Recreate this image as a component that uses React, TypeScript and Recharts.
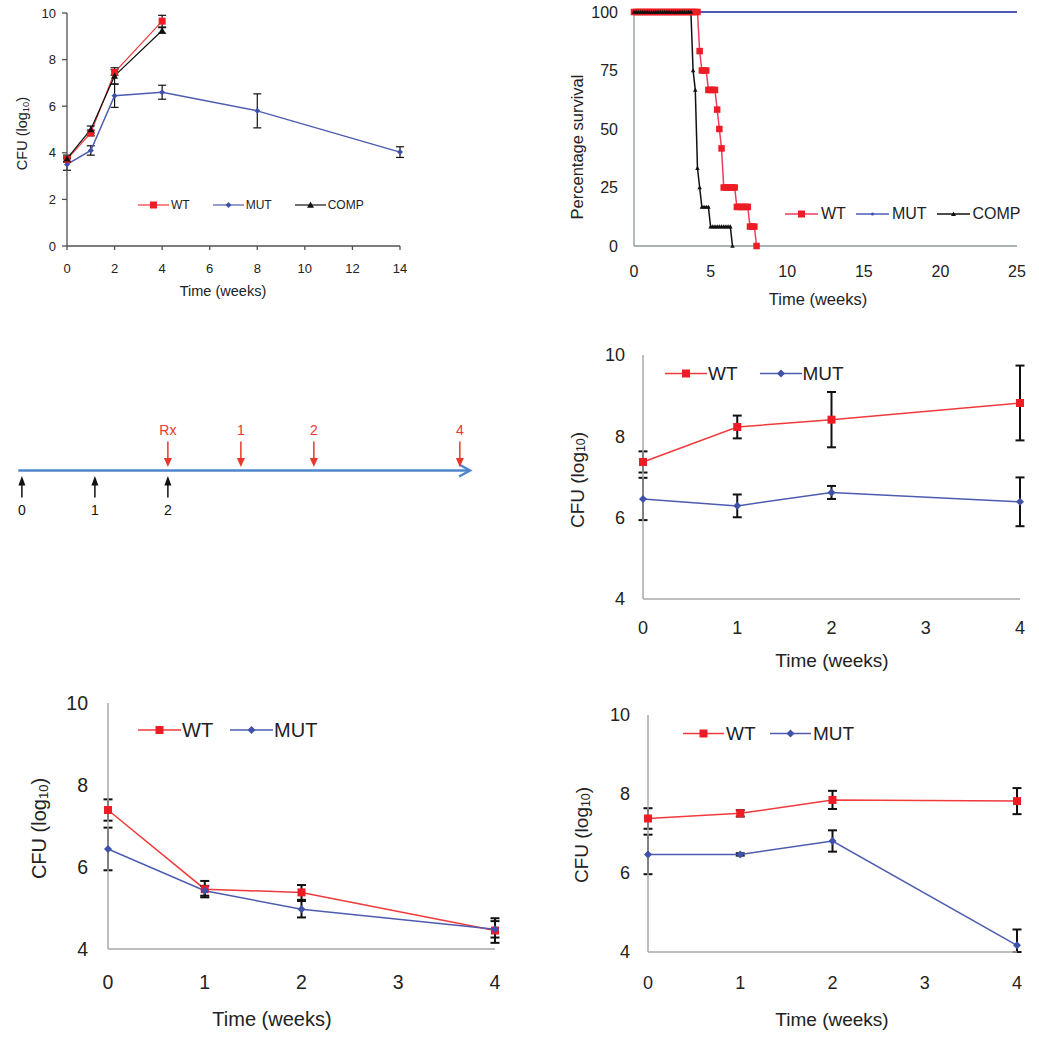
import React from "react";
import { LineChart, ComposedChart, Line, Scatter, XAxis, YAxis, ErrorBar, Legend } from "recharts";

const RED = "#ee1c25";
const RED_LINE = "#f03a3c";
const PINK_LINE = "#ec3d5e";
const BLUE = "#3f51a8";
const BLUE_LINE = "#4d5cb0";
const BLACK = "#111111";
const TEXT = "#222222";
const TIMELINE_BLUE = "#4f86cc";
const ARROW_RED = "#e8372c";
const FONT = '"Liberation Sans", Arial, Helvetica, sans-serif';

// growth in mice
const growthWeeks = [0, 1, 2, 4];
const growthWT = [3.72, 4.85, 7.45, 9.65];
const growthWTErr = [0.1, 0.12, 0.12, 0.25];
const growthCOMP = [3.75, 5.0, 7.3, 9.25];
const growthCOMPErr = [0.15, 0.15, 0.35, 0.12];
const growthMUTWeeks = [0, 1, 2, 4, 8, 14];
const growthMUT = [3.5, 4.1, 6.45, 6.6, 5.8, 4.03];
const growthMUTErr = [0.25, 0.2, 0.5, 0.3, 0.73, 0.23];
const growthXTicks = [0, 2, 4, 6, 8, 10, 12, 14];
const growthYTicks = [0, 2, 4, 6, 8, 10];

// survival, one value per day
const survivalWT = [
  100, 100, 100, 100, 100, 100, 100, 100, 100, 100,
  100, 100, 100, 100, 100, 100, 100, 100, 100, 100,
  100, 100, 100, 100, 100, 100, 100, 100, 100, 100,
  83.3, 75, 75, 75, 66.7, 66.7, 66.7, 66.7, 58.3, 50,
  41.7, 25, 25, 25, 25, 25, 25, 16.7, 16.7, 16.7,
  16.7, 16.7, 16.7, 8.3, 8.3, 8.3, 0,
];
const survivalCOMP = [
  100, 100, 100, 100, 100, 100, 100, 100, 100, 100,
  100, 100, 100, 100, 100, 100, 100, 100, 100, 100,
  100, 100, 100, 100, 100, 100, 100, 75, 66.7, 33.3,
  25, 16.7, 16.7, 16.7, 16.7, 8.3, 8.3, 8.3, 8.3, 8.3,
  8.3, 8.3, 8.3, 8.3, 8.3, 0,
];
const survivalMUTWeeks = [0, 25];
const survivalMUT = [100, 100];
const survivalXTicks = [0, 5, 10, 15, 20, 25];
const survivalYTicks = [0, 25, 50, 75, 100];

// timeline
const infectionWeeks = [0, 1, 2];
const treatmentStart = 2;
const treatmentWeeks = [0, 1, 2, 4];
const treatmentLabels = ["Rx", "1", "2", "4"];
const timelineSpan = [-0.05, 6.14];

// treatment experiments
const rxWeeks = [0, 1, 2, 4];
const rxXTicks = [0, 1, 2, 3, 4];
const rxYTicks = [4, 6, 8, 10];

const rxAWT = [7.37, 8.23, 8.41, 8.82];
const rxAWTErr = [0.26, 0.28, 0.68, 0.92];
const rxAMUT = [6.46, 6.29, 6.62, 6.39];
const rxAMUTErr = [0.52, 0.28, 0.16, 0.6];

const rxBWT = [7.39, 5.46, 5.38, 4.45];
const rxBWTErr = [0.26, 0.2, 0.18, 0.3];
const rxBMUT = [6.44, 5.42, 4.97, 4.48];
const rxBMUTErr = [0.52, 0.12, 0.2, 0.2];

const rxCWT = [7.38, 7.51, 7.85, 7.82];
const rxCWTErr = [0.26, 0.08, 0.23, 0.33];
const rxCMUT = [6.47, 6.47, 6.81, 4.17];
const rxCMUTErr: (number | number[])[] = [0.5, 0.03, 0.27, [0.17, 0.4]];

type Mark = "square" | "diamond" | "triangle" | "dot";

function Marker({ cx, cy, mark, size, fill }: { cx?: number; cy?: number; mark: Mark; size: number; fill: string }) {
  if (cx == null || cy == null || isNaN(cx) || isNaN(cy)) return null;
  const h = size / 2;
  if (mark === "square") return <rect x={cx - h} y={cy - h} width={size} height={size} fill={fill} />;
  if (mark === "diamond")
    return <polygon points={`${cx},${cy - h} ${cx + h},${cy} ${cx},${cy + h} ${cx - h},${cy}`} fill={fill} />;
  if (mark === "triangle")
    return <polygon points={`${cx},${cy - h} ${cx + h},${cy + h * 0.8} ${cx - h},${cy + h * 0.8}`} fill={fill} />;
  return <circle cx={cx} cy={cy} r={h} fill={fill} />;
}

const dotOf = (mark: Mark, size: number, fill: string) => (p: any) => (
  <Marker key={`m-${p.index}`} cx={p.cx} cy={p.cy} mark={mark} size={size} fill={fill} />
);

const pts = (xs: number[], ys: number[], es?: (number | number[])[]) =>
  xs.map((x, i) => ({ x, y: ys[i], e: es ? es[i] : 0 }));

const daily = (ys: number[]) => ys.map((y, day) => ({ x: day / 7, y }));

type LegendSpec = { name: string; stroke: string; fill: string; mark: Mark; size: number };

function legendContent(
  specs: LegendSpec[],
  o: { fontSize: number; lineLen: number; gap: number; textGap: number; strokeWidth: number }
) {
  return (props: any) => {
    const names: string[] = (props.payload ?? []).map((p: any) => p.value);
    const items = names.length ? specs.filter((s) => names.includes(s.name)) : specs;
    return (
      <div style={{ display: "flex", alignItems: "center", gap: o.gap, fontSize: o.fontSize, whiteSpace: "nowrap", color: TEXT, fontFamily: FONT }}>
        {items.map((s) => (
          <div key={s.name} style={{ display: "flex", alignItems: "center" }}>
            <svg width={o.lineLen} height={o.fontSize} style={{ display: "block" }}>
              <line x1={0} x2={o.lineLen} y1={o.fontSize / 2} y2={o.fontSize / 2} stroke={s.stroke} strokeWidth={o.strokeWidth} />
              <Marker cx={o.lineLen / 2} cy={o.fontSize / 2} mark={s.mark} size={s.size} fill={s.fill} />
            </svg>
            <span style={{ marginLeft: o.textGap, lineHeight: 1 }}>{s.name}</span>
          </div>
        ))}
      </div>
    );
  };
}

const xTitle = (cx: number, cy: number, size: number, text: string) => ({
  content: () => (
    <text x={cx} y={cy} textAnchor="middle" dominantBaseline="central" fontSize={size} fill={TEXT}>
      {text}
    </text>
  ),
});

const cfuTitle = (cx: number, cy: number, size: number) => ({
  content: () => (
    <text
      x={cx}
      y={cy}
      transform={`rotate(-90 ${cx} ${cy})`}
      textAnchor="middle"
      dominantBaseline="central"
      fontSize={size}
      fill={TEXT}
    >
      CFU (log
      <tspan fontSize={size * 0.65} dy={size * 0.22}>10</tspan>
      <tspan dy={-size * 0.22}>)</tspan>
    </text>
  ),
});

const plainYTitle = (cx: number, cy: number, size: number, text: string) => ({
  content: () => (
    <text x={cx} y={cy} transform={`rotate(-90 ${cx} ${cy})`} textAnchor="middle" dominantBaseline="central" fontSize={size} fill={TEXT}>
      {text}
    </text>
  ),
});

function GrowthPanel() {
  const axis = { stroke: "#505050", strokeWidth: 1.3 };
  const specs: LegendSpec[] = [
    { name: "WT", stroke: RED_LINE, fill: RED, mark: "square", size: 7 },
    { name: "MUT", stroke: BLUE_LINE, fill: BLUE, mark: "diamond", size: 6 },
    { name: "COMP", stroke: BLACK, fill: BLACK, mark: "triangle", size: 7 },
  ];
  return (
    <div style={{ position: "absolute", left: 0, top: 0 }}>
      <LineChart width={430} height={310} margin={{ top: 13, right: 30, bottom: 0, left: 0 }}>
        <XAxis
          type="number"
          dataKey="x"
          domain={[0, 14]}
          ticks={growthXTicks}
          interval={0}
          height={64}
          axisLine={axis}
          tickLine={axis}
          tickSize={4}
          tickMargin={14}
          tick={{ fontSize: 13, fill: TEXT }}
          label={xTitle(223, 291, 14.5, "Time (weeks)")}
        />
        <YAxis
          type="number"
          domain={[0, 10]}
          ticks={growthYTicks}
          interval={0}
          width={67}
          axisLine={axis}
          tickLine={axis}
          tickSize={5}
          tickMargin={6}
          tick={{ fontSize: 13, fill: TEXT }}
          label={cfuTitle(22, 133.5, 14.5)}
        />
        <Legend
          layout="horizontal"
          verticalAlign="middle"
          align="center"
          wrapperStyle={{ left: 138, top: 199, width: "auto", height: "auto" }}
          content={legendContent(specs, { fontSize: 12, lineLen: 31, gap: 23, textGap: 2, strokeWidth: 1.2 })}
        />
        <Line data={pts(growthMUTWeeks, growthMUT, growthMUTErr)} dataKey="y" name="MUT" stroke={BLUE_LINE} strokeWidth={1.5} dot={dotOf("diamond", 6, BLUE)} isAnimationActive={false}>
          <ErrorBar dataKey="e" width={4} strokeWidth={1.2} stroke={BLACK} direction="y" />
        </Line>
        <Line data={pts(growthWeeks, growthWT, growthWTErr)} dataKey="y" name="WT" stroke={RED_LINE} strokeWidth={1.2} dot={dotOf("square", 7, RED)} isAnimationActive={false}>
          <ErrorBar dataKey="e" width={4} strokeWidth={1.2} stroke={BLACK} direction="y" />
        </Line>
        <Line data={pts(growthWeeks, growthCOMP, growthCOMPErr)} dataKey="y" name="COMP" stroke={BLACK} strokeWidth={1.2} dot={dotOf("triangle", 7, BLACK)} isAnimationActive={false}>
          <ErrorBar dataKey="e" width={4} strokeWidth={1.2} stroke={BLACK} direction="y" />
        </Line>
      </LineChart>
    </div>
  );
}

function SurvivalPanel() {
  const axis = { stroke: "#8b9a9a", strokeWidth: 1.3 };
  const specs: LegendSpec[] = [
    { name: "WT", stroke: PINK_LINE, fill: RED, mark: "square", size: 7 },
    { name: "MUT", stroke: BLUE_LINE, fill: BLUE, mark: "dot", size: 3 },
    { name: "COMP", stroke: BLACK, fill: BLACK, mark: "triangle", size: 5 },
  ];
  return (
    <div style={{ position: "absolute", left: 540, top: 0 }}>
      <LineChart width={499} height={310} margin={{ top: 12, right: 22, bottom: 0, left: 0 }}>
        <XAxis
          type="number"
          dataKey="x"
          domain={[0, 25]}
          ticks={survivalXTicks}
          interval={0}
          height={64}
          axisLine={axis}
          tickLine={false}
          tickSize={6}
          tickMargin={14}
          tick={{ fontSize: 16, fill: TEXT }}
          label={xTitle(278, 299, 16.5, "Time (weeks)")}
        />
        <YAxis
          type="number"
          domain={[0, 100]}
          ticks={survivalYTicks}
          interval={0}
          width={94}
          axisLine={axis}
          tickLine={false}
          tickSize={6}
          tickMargin={10}
          tick={{ fontSize: 16, fill: TEXT }}
          label={plainYTitle(36.7, 147, 16.5, "Percentage survival")}
        />
        <Legend
          layout="horizontal"
          verticalAlign="middle"
          align="center"
          wrapperStyle={{ left: 245, top: 206, width: "auto", height: "auto" }}
          content={legendContent(specs, { fontSize: 16, lineLen: 33, gap: 10, textGap: 3, strokeWidth: 1.5 })}
        />
        <Line data={pts(survivalMUTWeeks, survivalMUT)} dataKey="y" name="MUT" stroke={BLUE_LINE} strokeWidth={2} dot={false} isAnimationActive={false} />
        <Line data={daily(survivalWT)} dataKey="y" name="WT" stroke={PINK_LINE} strokeWidth={1.5} dot={dotOf("square", 6.5, RED)} isAnimationActive={false} />
        <Line data={daily(survivalCOMP)} dataKey="y" name="COMP" stroke={BLACK} strokeWidth={1.5} dot={dotOf("triangle", 4.5, BLACK)} isAnimationActive={false} />
      </LineChart>
    </div>
  );
}

function TimelinePanel() {
  const axisPts = timelineSpan.map((x) => ({ x, y: 0 }));
  const infection = infectionWeeks.map((w) => ({ x: w, y: 0, label: String(w) }));
  const treatment = treatmentWeeks.map((w, i) => ({ x: treatmentStart + w, y: 0, label: treatmentLabels[i] }));
  const arrowHead = (p: any) =>
    p.index === axisPts.length - 1 ? (
      <polyline
        key={`a-${p.index}`}
        points={`${p.cx - 11},${p.cy - 6} ${p.cx},${p.cy} ${p.cx - 11},${p.cy + 6}`}
        fill="none"
        stroke={TIMELINE_BLUE}
        strokeWidth={2.5}
      />
    ) : (
      <g key={`a-${p.index}`} />
    );
  const upArrow = (p: any) => (
    <g>
      <line x1={p.cx} x2={p.cx} y1={p.cy + 14} y2={p.cy + 27} stroke={BLACK} strokeWidth={1.5} />
      <polygon points={`${p.cx - 3.5},${p.cy + 15} ${p.cx + 3.5},${p.cy + 15} ${p.cx},${p.cy + 5.5}`} fill={BLACK} />
      <text x={p.cx} y={p.cy + 39} textAnchor="middle" dominantBaseline="central" fontSize={14} fill={BLACK}>
        {p.payload.label}
      </text>
    </g>
  );
  const downArrow = (p: any) => (
    <g>
      <line x1={p.cx} x2={p.cx} y1={p.cy - 29} y2={p.cy - 11} stroke={ARROW_RED} strokeWidth={1.5} />
      <polygon points={`${p.cx - 4},${p.cy - 12.5} ${p.cx + 4},${p.cy - 12.5} ${p.cx},${p.cy - 3.5}`} fill={ARROW_RED} />
      <text x={p.cx} y={p.cy - 40.5} textAnchor="middle" dominantBaseline="central" fontSize={14} fill={ARROW_RED}>
        {p.payload.label}
      </text>
    </g>
  );
  return (
    <div style={{ position: "absolute", left: 0, top: 400 }}>
      <ComposedChart width={500} height={150} margin={{ top: 0, right: 0, bottom: 9, left: 0 }}>
        <XAxis type="number" dataKey="x" domain={[-0.3, 6.55]} hide />
        <YAxis type="number" dataKey="y" domain={[-1, 1]} hide />
        <Line data={axisPts} dataKey="y" stroke={TIMELINE_BLUE} strokeWidth={2.5} dot={arrowHead} isAnimationActive={false} />
        <Scatter data={infection} dataKey="y" shape={upArrow} isAnimationActive={false} />
        <Scatter data={treatment} dataKey="y" shape={downArrow} isAnimationActive={false} />
      </ComposedChart>
    </div>
  );
}

type RxLayout = {
  left: number;
  top: number;
  width: number;
  height: number;
  yAxisWidth: number;
  marginTop: number;
  marginRight: number;
  xAxisHeight: number;
  tickFont: number;
  yTickMargin: number;
  xTickMargin: number;
  titleFont: number;
  yTitle: [number, number];
  xTitle: [number, number];
  legend: { left: number; top: number; lineLen: number; textGap: number; gap: number; font: number };
};

function TreatmentPanel({
  layout: L,
  wt,
  wtErr,
  mut,
  mutErr,
}: {
  layout: RxLayout;
  wt: number[];
  wtErr: (number | number[])[];
  mut: number[];
  mutErr: (number | number[])[];
}) {
  const axis = { stroke: "#a8a8a8", strokeWidth: 1.5 };
  const specs: LegendSpec[] = [
    { name: "WT", stroke: RED_LINE, fill: RED, mark: "square", size: 8 },
    { name: "MUT", stroke: BLUE_LINE, fill: BLUE, mark: "diamond", size: 8 },
  ];
  return (
    <div style={{ position: "absolute", left: L.left, top: L.top }}>
      <LineChart width={L.width} height={L.height} margin={{ top: L.marginTop, right: L.marginRight, bottom: 0, left: 0 }}>
        <XAxis
          type="number"
          dataKey="x"
          domain={[0, 4]}
          ticks={rxXTicks}
          interval={0}
          height={L.xAxisHeight}
          axisLine={axis}
          tickLine={false}
          tickSize={6}
          tickMargin={L.xTickMargin}
          tick={{ fontSize: L.tickFont, fill: TEXT }}
          label={xTitle(L.xTitle[0], L.xTitle[1], L.titleFont, "Time (weeks)")}
        />
        <YAxis
          type="number"
          domain={[4, 10]}
          ticks={rxYTicks}
          interval={0}
          width={L.yAxisWidth}
          axisLine={axis}
          tickLine={false}
          tickSize={6}
          tickMargin={L.yTickMargin}
          tick={{ fontSize: L.tickFont, fill: TEXT }}
          label={cfuTitle(L.yTitle[0], L.yTitle[1], L.titleFont)}
        />
        <Legend
          layout="horizontal"
          verticalAlign="middle"
          align="center"
          wrapperStyle={{ left: L.legend.left, top: L.legend.top, width: "auto", height: "auto" }}
          content={legendContent(specs, {
            fontSize: L.legend.font,
            lineLen: L.legend.lineLen,
            gap: L.legend.gap,
            textGap: L.legend.textGap,
            strokeWidth: 1.5,
          })}
        />
        <Line data={pts(rxWeeks, wt, wtErr)} dataKey="y" name="WT" stroke={RED_LINE} strokeWidth={1.5} dot={dotOf("square", 8, RED)} isAnimationActive={false}>
          <ErrorBar dataKey="e" width={4.5} strokeWidth={2} stroke={BLACK} direction="y" />
        </Line>
        <Line data={pts(rxWeeks, mut, mutErr)} dataKey="y" name="MUT" stroke={BLUE_LINE} strokeWidth={1.5} dot={dotOf("diamond", 8, BLUE)} isAnimationActive={false}>
          <ErrorBar dataKey="e" width={4.5} strokeWidth={2} stroke={BLACK} direction="y" />
        </Line>
      </LineChart>
    </div>
  );
}

const layoutA: RxLayout = {
  left: 550, top: 330, width: 489, height: 350, yAxisWidth: 93, marginTop: 25, marginRight: 19, xAxisHeight: 81,
  tickFont: 18, yTickMargin: 12, xTickMargin: 16, titleFont: 19, yTitle: [27, 150], xTitle: [282, 330],
  legend: { left: 115, top: 33.5, lineLen: 42, textGap: 1, gap: 22, font: 19 },
};
const layoutB: RxLayout = {
  left: 0, top: 680, width: 520, height: 370, yAxisWidth: 108, marginTop: 23, marginRight: 25, xAxisHeight: 101,
  tickFont: 19.5, yTickMargin: 14, xTickMargin: 20, titleFont: 20, yTitle: [38.5, 148.5], xTitle: [272, 339],
  legend: { left: 138, top: 40, lineLen: 43, textGap: 1, gap: 17, font: 20 },
};
const layoutC: RxLayout = {
  left: 540, top: 690, width: 499, height: 360, yAxisWidth: 108, marginTop: 25, marginRight: 22, xAxisHeight: 98,
  tickFont: 18, yTickMargin: 12, xTickMargin: 18, titleFont: 19, yTitle: [41.5, 145], xTitle: [292, 329],
  legend: { left: 143, top: 33.5, lineLen: 41, textGap: 2, gap: 14.5, font: 19 },
};

export default function App() {
  return (
    <div style={{ position: "absolute", left: 0, top: 0, width: 1039, height: 1050, background: "#fff", fontFamily: FONT, overflow: "hidden" }}>
      <GrowthPanel />
      <SurvivalPanel />
      <TimelinePanel />
      <TreatmentPanel layout={layoutA} wt={rxAWT} wtErr={rxAWTErr} mut={rxAMUT} mutErr={rxAMUTErr} />
      <TreatmentPanel layout={layoutB} wt={rxBWT} wtErr={rxBWTErr} mut={rxBMUT} mutErr={rxBMUTErr} />
      <TreatmentPanel layout={layoutC} wt={rxCWT} wtErr={rxCWTErr} mut={rxCMUT} mutErr={rxCMUTErr} />
    </div>
  );
}
